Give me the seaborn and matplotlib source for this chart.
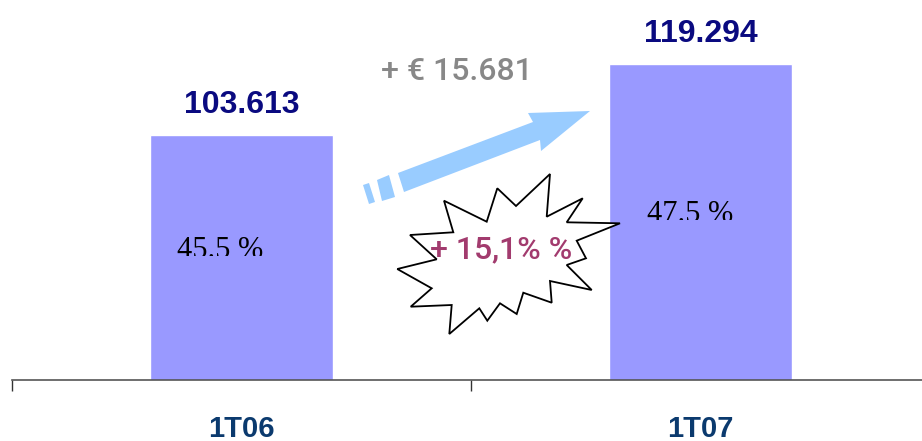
import matplotlib
matplotlib.use("Agg")
import matplotlib.pyplot as plt
import seaborn as sns
import pandas as pd
from matplotlib.patches import Polygon
from matplotlib.transforms import Bbox, TransformedBbox

# data
periods = ["1T06", "1T07"]
values = [103613, 119294]
value_labels = ["103.613", "119.294"]
share_labels = ["45.5 %", "47.5 %"]
delta_label = "+ € 15.681"
growth_label = "+ 15,1% %"

sns.set_style("white")
plt.rcParams["font.family"] = ["Liberation Sans", "DejaVu Sans"]

W, H = 922, 441
fig = plt.figure(figsize=(W / 100, H / 100), dpi=100)
ax = fig.add_axes([12 / W, 1 - 380 / H, 918 / W, 380 / H])


def px(x, y):
    # pixel position -> figure fraction (for decorations only)
    return (x / W, 1 - y / H)


df = pd.DataFrame({"period": periods, "value": values})
sns.barplot(data=df, x="period", y="value", color="#9999FF", saturation=1,
            width=0.4, ax=ax, zorder=2)

ax.set_xlim(-0.5, 1.5)
ax.set_ylim(49500, 133400)
ax.set_ylabel("")
ax.set_xlabel("")
ax.set_yticks([])
for s in ["top", "right", "left"]:
    ax.spines[s].set_visible(False)
ax.spines["bottom"].set_color("#555555")
ax.spines["bottom"].set_linewidth(1.2)

# tick marks between categories, labels under the bars
ax.set_xticks([-0.5, 0.5, 1.5], labels=["", "", ""])
ax.set_xticks([0, 1], labels=periods, minor=True)
ax.tick_params(axis="x", which="major", bottom=True, length=8, width=1,
               color="#333333", direction="out")
ax.tick_params(axis="x", which="minor", bottom=True, length=0, pad=25)
for lab in ax.get_xticklabels(minor=True):
    lab.set_fontfamily(["Liberation Sans Narrow", "Liberation Sans"])
    lab.set_fontweight("bold")
    lab.set_fontsize(21)
    lab.set_color("#0B3A6E")

# value labels above bars
for i, v in enumerate(values):
    ax.annotate(value_labels[i], xy=(i, v), xytext=(0, 16), textcoords="offset points",
                ha="center", va="baseline", fontsize=23, fontweight="bold",
                color="#0A0A80", zorder=5)

# share labels inside bars (cut at the bottom like the original)
share_left = [177, 647]
share_top = [238, 202]
for i, lab in enumerate(share_labels):
    x0, y0 = px(share_left[i], share_top[i] - 2)
    t = fig.text(x0, y0, lab, ha="left", va="top", fontsize=22,
                 family=["Liberation Serif", "DejaVu Serif"], color="black", zorder=6)
    clip = Bbox([px(share_left[i] - 20, share_top[i] + 18),
                 px(share_left[i] + 140, share_top[i] - 15)])
    t.set_clip_box(TransformedBbox(clip, fig.transFigure))
    t.set_clip_on(True)

# growth arrow
arrow_col = "#99CCFF"
arrow = [(398, 173), (533, 122), (528, 113), (590, 111), (541, 151), (540, 140), (404, 192)]
dash1 = [(363, 185), (369, 183), (375, 202), (369, 204)]
dash2 = [(377, 180), (389, 175), (395, 197), (382, 201)]
for pts in [arrow, dash1, dash2]:
    fig.add_artist(Polygon([px(*p) for p in pts], closed=True, facecolor=arrow_col,
                           edgecolor="none", transform=fig.transFigure, zorder=3))

fig.text(*px(457, 72), delta_label, ha="center", va="center", fontsize=23,
         family=["Roboto", "DejaVu Sans"], fontweight="medium", color="#888888", zorder=6)

# starburst
burst = [(550, 174), (546.7, 216.7), (582.7, 198.3), (566.7, 222.3), (620, 223.3),
         (576.7, 240.7), (586, 258.3), (566.7, 265), (591.7, 290), (550, 281),
         (551.7, 302.7), (523.3, 292.7), (516.7, 314), (500, 303.3), (487.3, 320.7),
         (479.3, 308.3), (449.3, 334), (451.7, 305), (410.7, 306.7), (431.7, 288.3),
         (397.3, 269), (436.7, 259.3), (410, 235), (453.3, 232.3), (444, 200.7),
         (486.7, 221.7), (497.3, 188.3), (516, 206)]
fig.add_artist(Polygon([px(*p) for p in burst], closed=True, facecolor="white",
                       edgecolor="black", linewidth=1.3, transform=fig.transFigure, zorder=4))

fig.text(*px(501, 250), growth_label, ha="center", va="center", fontsize=23,
         family=["Roboto", "DejaVu Sans"], fontweight="medium", color="#A23B6E", zorder=7)

fig.savefig("out.png", dpi=100)
